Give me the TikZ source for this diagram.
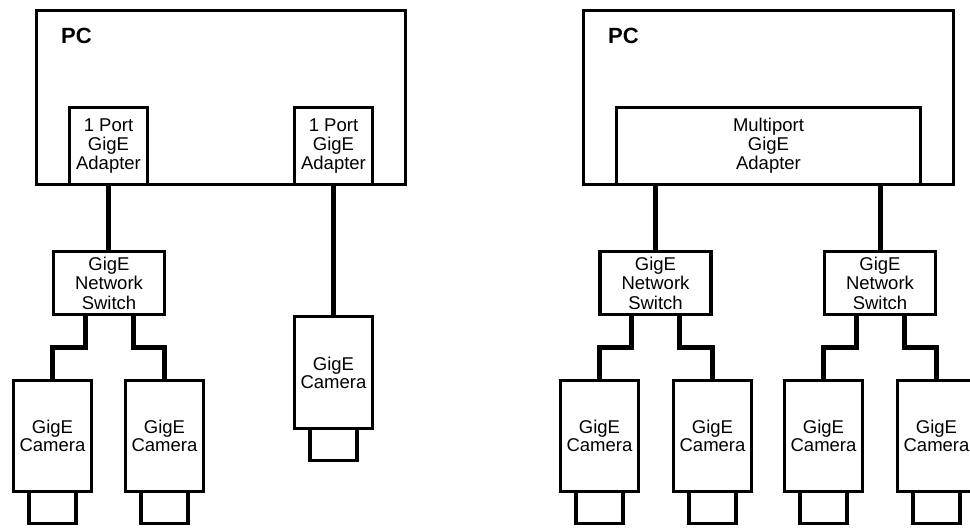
\documentclass[tikz,border=0pt]{standalone}
\usepackage{fontspec}
\setmainfont{Liberation Sans}

\begin{document}
\begin{tikzpicture}[x=1pt, y=-1pt,
  pclabel/.style={anchor=base west, inner sep=0pt, font=\fontsize{22}{24}\selectfont\bfseries},
  pcbox/.style={draw, line width=3.2pt, inner sep=0pt, outer sep=0pt, minimum height=174pt},
  adapterbox/.style={draw, rectangle, line width=3.2pt, fill=white, align=center, inner sep=0pt, outer sep=0pt, font=\fontsize{18.5}{19}\selectfont, minimum height=77pt, anchor=south},
  switchbox/.style={draw, rectangle, line width=3.2pt, fill=white, align=center, inner sep=0pt, outer sep=0pt, font=\fontsize{18.5}{19.5}\selectfont, minimum width=111pt, minimum height=63pt},
  camerabox/.style={draw, rectangle, line width=3.2pt, fill=white, align=center, inner sep=0pt, outer sep=0pt, font=\fontsize{18.5}{18}\selectfont, minimum width=78pt, minimum height=111pt},
  plugbox/.style={draw, rectangle, line width=3.2pt, inner sep=0pt, outer sep=0pt, minimum width=47pt, minimum height=32pt, anchor=north},
  cable/.style={line width=5pt}
]

\useasboundingbox (0,0) rectangle (970,528);
\clip (0,0) rectangle (970,528);

\node[pcbox, minimum width=369pt] (pc_left) at (221, 97.5) {};
\node[pclabel] at (61, 43.5) {PC};

\node[adapterbox, minimum width=78pt] (adapter_a) at (108.5, 184.5) {1 Port\\GigE\\Adapter};
\node[adapterbox, minimum width=78pt] (adapter_b) at (333.5, 184.5) {1 Port\\GigE\\Adapter};

\node[switchbox] (switch_left) at (109, 283) {GigE\\Network\\Switch};

\node[camerabox] (cam_l1) at (52.5, 436) {GigE\\Camera};
\node[camerabox] (cam_l2) at (164.5, 436) {GigE\\Camera};
\node[camerabox, minimum height=112pt] (cam_single) at (333.5, 372.5) {GigE\\Camera};

\node[plugbox] (plug_l1) at (cam_l1.south) {};
\node[plugbox] (plug_l2) at (cam_l2.south) {};
\node[plugbox] (plug_single) at (cam_single.south) {};

\draw[cable] (adapter_a.south) -- (adapter_a.south |- switch_left.north);
\draw[cable] (adapter_b.south) -- (cam_single.north);
\draw[cable] ([xshift=-24pt]switch_left.south) -- ++(0,33) -| (cam_l1.north);
\draw[cable] ([xshift=24pt]switch_left.south) -- ++(0,33) -| (cam_l2.north);

\node[pcbox, minimum width=370pt] (pc_right) at (768.5, 97.5) {};
\node[pclabel] at (608, 43.5) {PC};

\node[adapterbox, minimum width=304pt] (adapter_multi) at (768.5, 184.5) {Multiport\\GigE\\Adapter};

\node[switchbox] (switch_r1) at (655.5, 283) {GigE\\Network\\Switch};
\node[switchbox] (switch_r2) at (880, 283) {GigE\\Network\\Switch};

\node[camerabox] (cam_r1) at (599.5, 436) {GigE\\Camera};
\node[camerabox] (cam_r2) at (712.5, 436) {GigE\\Camera};
\node[camerabox] (cam_r3) at (823.5, 436) {GigE\\Camera};
\node[camerabox] (cam_r4) at (936.5, 436) {GigE\\Camera};

\node[plugbox] (plug_r1) at (cam_r1.south) {};
\node[plugbox] (plug_r2) at (cam_r2.south) {};
\node[plugbox] (plug_r3) at (cam_r3.south) {};
\node[plugbox] (plug_r4) at (cam_r4.south) {};

\draw[cable] (adapter_multi.south -| switch_r1.north) -- (switch_r1.north);
\draw[cable] (adapter_multi.south -| switch_r2.north) -- (switch_r2.north);
\draw[cable] ([xshift=-24pt]switch_r1.south) -- ++(0,33) -| (cam_r1.north);
\draw[cable] ([xshift=24pt]switch_r1.south) -- ++(0,33) -| (cam_r2.north);
\draw[cable] ([xshift=-24pt]switch_r2.south) -- ++(0,33) -| (cam_r3.north);
\draw[cable] ([xshift=24pt]switch_r2.south) -- ++(0,33) -| (cam_r4.north);

\end{tikzpicture}
\end{document}
